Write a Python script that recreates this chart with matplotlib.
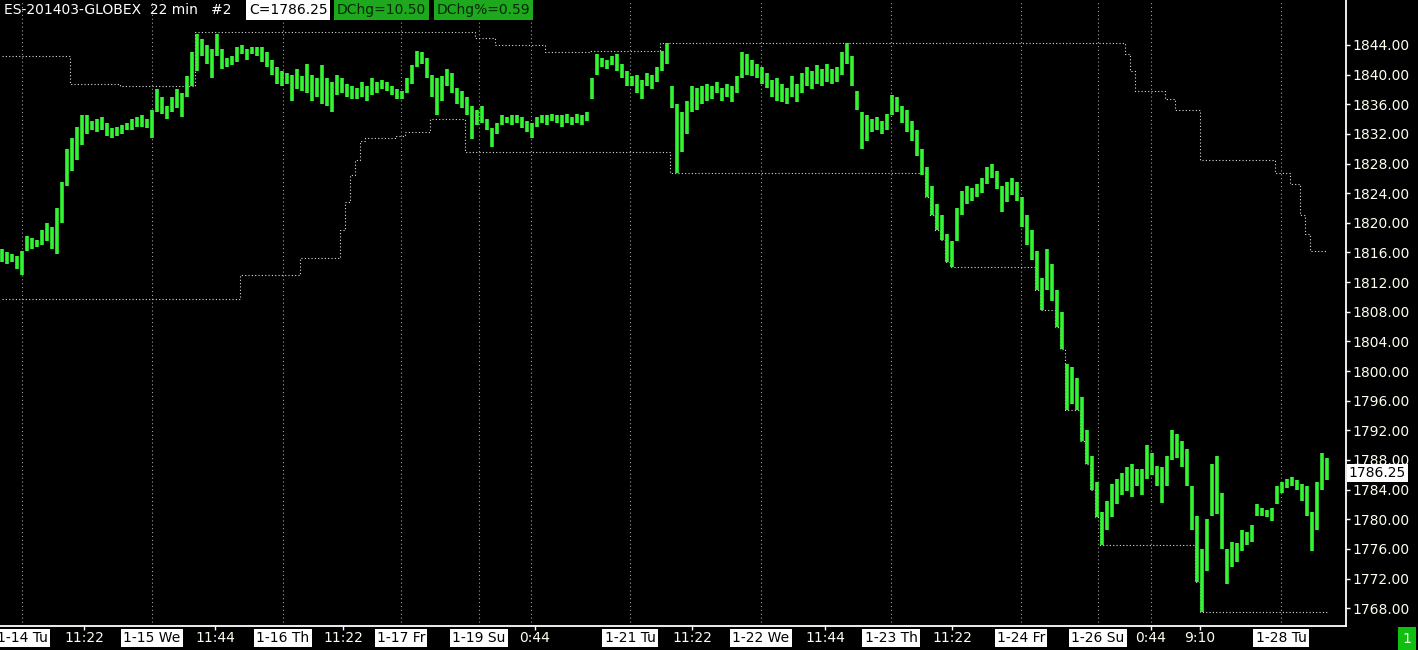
import matplotlib
matplotlib.use("Agg")
import numpy as np
import matplotlib.pyplot as plt
from matplotlib.transforms import blended_transform_factory

# ES-201403 22 min bars (every other bar): lows / highs
bar_low = [
    1814.75, 1814.5, 1814.75, 1813.75, 1813.0, 1816.25, 1816.5, 1816.75, 1817.0, 1817.5,
    1816.5, 1815.75, 1820.0, 1825.0, 1827.0, 1828.5, 1830.5, 1832.0, 1832.5, 1832.25,
    1832.5, 1831.75, 1831.5, 1831.75, 1832.0, 1832.5, 1832.5, 1833.0, 1833.0, 1832.75,
    1831.5, 1835.0, 1834.75, 1834.0, 1835.0, 1835.5, 1834.25, 1837.0, 1838.5, 1840.5,
    1842.5, 1841.5, 1839.5, 1842.5, 1840.75, 1841.0, 1841.25, 1841.75, 1842.75, 1842.0,
    1842.75, 1842.5, 1841.75, 1841.0, 1840.0, 1838.75, 1838.5, 1838.75, 1836.5, 1838.0,
    1837.75, 1837.5, 1836.5, 1837.0, 1836.0, 1835.75, 1835.0, 1837.25, 1837.5, 1837.0,
    1836.75, 1836.75, 1837.0, 1836.5, 1837.25, 1837.5, 1838.0, 1837.75, 1837.25, 1836.75,
    1836.75, 1837.5, 1838.75, 1841.0, 1841.5, 1839.5, 1837.0, 1834.5, 1836.5, 1838.5,
    1837.5, 1836.0, 1835.5, 1834.5, 1831.25, 1833.25, 1833.5, 1832.5, 1830.25, 1832.0,
    1833.25, 1833.5, 1833.25, 1833.5, 1832.75, 1832.25, 1831.5, 1833.0, 1833.5, 1833.25,
    1833.75, 1833.5, 1833.0, 1833.5, 1833.25, 1833.5, 1833.25, 1833.75, 1836.75, 1840.0,
    1841.0, 1840.75, 1841.25, 1840.5, 1839.5, 1838.5, 1838.5, 1837.5, 1836.75, 1838.5,
    1838.0, 1839.0, 1840.5, 1841.5, 1835.5, 1826.75, 1829.5, 1832.0, 1835.0, 1835.25,
    1836.0, 1836.5, 1836.75, 1837.5, 1836.5, 1837.0, 1836.25, 1837.5, 1839.5, 1840.0,
    1839.75, 1839.5, 1838.75, 1838.25, 1837.0, 1836.5, 1836.25, 1836.0, 1837.0, 1836.25,
    1837.5, 1838.5, 1838.0, 1838.75, 1838.5, 1839.0, 1838.75, 1839.0, 1840.0, 1841.5,
    1838.5, 1835.25, 1830.0, 1831.0, 1832.25, 1832.5, 1832.0, 1832.5, 1834.5, 1835.0,
    1833.5, 1832.25, 1831.0, 1829.0, 1826.5, 1823.5, 1821.0, 1819.0, 1817.75, 1814.75,
    1814.0, 1817.5, 1821.0, 1822.5, 1823.0, 1823.5, 1824.0, 1825.25, 1826.0, 1824.5,
    1821.5, 1822.75, 1823.75, 1823.0, 1819.5, 1817.0, 1815.0, 1811.0, 1808.25, 1811.0,
    1809.5, 1806.0, 1803.0, 1794.75, 1795.5, 1794.75, 1790.5, 1787.5, 1784.0, 1780.25,
    1776.5, 1778.5, 1780.25, 1782.0, 1783.25, 1783.75, 1783.0, 1784.5, 1783.25, 1785.5,
    1786.0, 1784.5, 1782.25, 1784.5, 1788.0, 1788.25, 1787.0, 1784.5, 1778.5, 1771.5,
    1767.5, 1773.0, 1780.5, 1780.75, 1776.0, 1771.25, 1773.5, 1774.25, 1775.75, 1776.5,
    1777.0, 1780.5, 1780.5, 1780.25, 1779.75, 1782.0, 1783.5, 1784.25, 1784.5, 1784.0,
    1782.5, 1780.5, 1775.75, 1778.5, 1784.0, 1785.25,
]
bar_high = [
    1816.5, 1816.0, 1815.75, 1815.5, 1816.25, 1818.25, 1818.0, 1817.75, 1819.0, 1820.0,
    1819.5, 1822.0, 1825.5, 1830.0, 1831.5, 1833.0, 1834.5, 1834.5, 1833.75, 1834.0,
    1834.25, 1833.5, 1832.75, 1833.0, 1833.25, 1833.5, 1834.0, 1834.25, 1834.5, 1834.0,
    1835.25, 1838.0, 1837.0, 1835.75, 1837.0, 1838.0, 1837.5, 1839.75, 1843.0, 1845.5,
    1844.75, 1844.0, 1843.5, 1845.5, 1843.5, 1842.25, 1842.5, 1843.75, 1844.0, 1843.5,
    1843.75, 1843.75, 1843.75, 1843.0, 1842.0, 1841.0, 1840.5, 1840.25, 1840.0, 1840.75,
    1839.75, 1841.5, 1840.0, 1839.5, 1841.25, 1839.5, 1839.0, 1840.0, 1839.5, 1838.75,
    1838.5, 1838.25, 1839.0, 1838.5, 1839.5, 1839.0, 1839.25, 1839.0, 1838.5, 1838.0,
    1837.75, 1839.5, 1841.25, 1843.25, 1843.0, 1842.25, 1840.0, 1839.5, 1839.75, 1840.75,
    1840.25, 1838.25, 1837.75, 1837.0, 1835.75, 1835.25, 1835.75, 1834.0, 1832.75, 1833.5,
    1834.5, 1834.25, 1834.5, 1834.5, 1834.25, 1833.75, 1833.5, 1834.25, 1834.5, 1834.5,
    1834.75, 1834.5, 1834.5, 1834.75, 1834.25, 1834.75, 1834.5, 1835.0, 1839.5, 1842.75,
    1842.25, 1842.0, 1842.5, 1842.75, 1841.5, 1840.5, 1839.75, 1840.0, 1839.25, 1840.25,
    1840.0, 1841.0, 1843.25, 1844.25, 1838.5, 1836.0, 1835.0, 1836.5, 1838.5, 1838.25,
    1838.5, 1838.75, 1838.5, 1839.0, 1838.25, 1838.75, 1838.5, 1839.75, 1843.0, 1842.75,
    1842.0, 1841.5, 1841.0, 1840.25, 1839.25, 1839.5, 1838.75, 1838.25, 1839.75, 1838.75,
    1840.25, 1841.0, 1840.5, 1841.25, 1840.75, 1841.5, 1840.75, 1841.0, 1843.0, 1844.25,
    1842.5, 1837.75, 1835.0, 1834.5, 1834.0, 1834.25, 1833.75, 1834.75, 1837.25, 1837.0,
    1835.75, 1835.25, 1833.75, 1832.5, 1830.0, 1827.5, 1825.0, 1822.5, 1821.0, 1818.5,
    1817.5, 1822.0, 1824.25, 1825.0, 1824.75, 1825.25, 1826.0, 1827.5, 1828.0, 1827.0,
    1825.0, 1825.5, 1826.0, 1825.5, 1823.5, 1821.0, 1819.0, 1816.25, 1812.5, 1816.5,
    1814.5, 1811.0, 1808.0, 1801.0, 1800.5, 1799.0, 1796.5, 1792.0, 1788.5, 1785.0,
    1781.0, 1782.5, 1784.75, 1785.5, 1786.25, 1787.0, 1787.5, 1786.75, 1786.75, 1790.0,
    1789.0, 1787.25, 1787.0, 1788.5, 1792.0, 1791.5, 1790.5, 1789.5, 1784.5, 1780.5,
    1776.0, 1780.0, 1787.5, 1788.5, 1783.5, 1776.0, 1777.0, 1776.75, 1778.5, 1778.25,
    1779.25, 1782.0, 1781.5, 1781.25, 1781.5, 1784.5, 1785.0, 1785.5, 1785.75, 1785.25,
    1784.75, 1784.5, 1781.0, 1785.0, 1789.0, 1788.25,
]
last_close = 1786.25

# channel lines: (bar where level starts, level)
upper_steps = [(0, 1842.5), (14, 1838.75), (24, 1838.5), (39, 1845.75), (95, 1845.0),
               (99, 1844.0), (109, 1843.0), (118, 1843.25), (132, 1844.25), (225, 1842.75),
               (226, 1840.5), (227, 1837.75), (233, 1836.75), (235, 1835.25), (240, 1828.5),
               (255, 1826.75), (258, 1825.25), (260, 1821.0), (261, 1818.5), (262, 1816.25)]
lower_steps = [(0, 1809.75), (48, 1813.0), (60, 1815.25), (68, 1819.0), (69, 1822.75),
               (70, 1826.5), (71, 1828.5), (72, 1831.0), (73, 1831.5), (79, 1831.75),
               (81, 1832.25), (86, 1834.0), (93, 1829.5), (134, 1826.75), (185, 1823.5),
               (186, 1821.0), (187, 1819.0), (188, 1817.75), (189, 1814.75), (190, 1814.0),
               (207, 1811.0), (208, 1808.25), (211, 1806.0), (212, 1803.0), (213, 1794.75),
               (216, 1790.5), (217, 1787.5), (218, 1784.0), (219, 1780.25), (220, 1776.5),
               (239, 1771.5), (240, 1767.5)]

# axis labels (bar index where they sit)
date_pos = [4.0, 30.0, 56.2, 79.8, 95.4, 125.6, 151.8, 177.8, 203.8, 219.2, 255.8]
date_labels = ["1-14 Tu", "1-15 We", "1-16 Th", "1-17 Fr", "1-19 Su", "1-21 Tu",
               "1-22 We", "1-23 Th", "1-24 Fr", "1-26 Su", "1-28 Tu"]
time_pos = [16.4, 42.6, 68.2, 106.6, 138.0, 164.6, 190.0, 229.8, 239.6]
time_labels = ["11:22", "11:44", "11:22", "0:44", "11:22", "11:44", "11:22", "0:44", "9:10"]
session_pos = [105.8, 229.8]

W, H = 1418, 650
fig = plt.figure(figsize=(W / 100, H / 100), dpi=100, facecolor="black")
ax = fig.add_axes([0, 24 / H, 1346 / W, 626 / H], facecolor="black")

idx = np.arange(len(bar_low))

def expand(steps):
    out = np.zeros(len(idx))
    for start, level in steps:
        out[start:] = level
    return out

for p in date_pos + session_pos:
    ax.axvline(p, color="#a0a0a0", lw=0.8, ls=(0, (1, 2.5)), zorder=1)

ax.step(idx, expand(upper_steps), where="mid", color="#dcdcdc", lw=0.8, ls=(0, (1, 2)), zorder=2)
ax.step(idx, expand(lower_steps), where="mid", color="#dcdcdc", lw=0.8, ls=(0, (1, 2)), zorder=2)

ax.vlines(idx, bar_low, bar_high, color="#33f533", lw=2.6, zorder=3)

ax.set_xlim(-0.4, 268.8)
ax.set_ylim(1765.6, 1850.07)

for side in ["left", "top"]:
    ax.spines[side].set_visible(False)
for side in ["right", "bottom"]:
    ax.spines[side].set_color("white")
    ax.spines[side].set_linewidth(1.3)

ax.yaxis.tick_right()
ax.set_yticks(np.arange(1768, 1845, 4))
ax.set_yticklabels([f"{v:.2f}" for v in np.arange(1768, 1845, 4)])
ax.tick_params(axis="y", colors="white", labelcolor="#fffff0", length=3, width=1,
               labelsize=10, pad=1.5)
ax.set_xticks(time_pos)
ax.set_xticklabels([])
ax.tick_params(axis="x", colors="white", length=3, width=1)

lab = blended_transform_factory(ax.transData, fig.transFigure)
for p, t in zip(date_pos, date_labels):
    ax.text(p, 12 / H, t, transform=lab, ha="center", va="center", fontsize=10,
            color="black", clip_on=False,
            bbox=dict(boxstyle="square,pad=0.15", fc="white", ec="none"))
for p, t in zip(time_pos, time_labels):
    ax.text(p, 12 / H, t, transform=lab, ha="center", va="center", fontsize=10,
            color="#fffff0", clip_on=False)

# last price marker on the price axis
ax.text(1.002, last_close, f"{last_close:.2f}",
        transform=blended_transform_factory(ax.transAxes, ax.transData),
        ha="left", va="center", fontsize=10, color="black", clip_on=False,
        bbox=dict(boxstyle="square,pad=0.15", fc="white", ec="none"))

# header
fig.text(4 / W, 1 - 10 / H, "ES-201403-GLOBEX  22 min   #2", ha="left", va="center",
         fontsize=10, color="white")
fig.text(249 / W, 1 - 10 / H, f"C={last_close:.2f}", ha="left", va="center", fontsize=10,
         color="black", bbox=dict(boxstyle="square,pad=0.2", fc="white", ec="none"))
fig.text(337 / W, 1 - 10 / H, "DChg=10.50", ha="left", va="center", fontsize=10,
         color="#062806", bbox=dict(boxstyle="square,pad=0.2", fc="#1da81d", ec="none"))
fig.text(437 / W, 1 - 10 / H, "DChg%=0.59", ha="left", va="center", fontsize=10,
         color="#062806", bbox=dict(boxstyle="square,pad=0.2", fc="#1da81d", ec="none"))

fig.text(1407 / W, 11 / H, "1", ha="center", va="center", fontsize=10, color="white",
         bbox=dict(boxstyle="square,pad=0.35", fc="#10c010", ec="none"))

fig.savefig("out.png", dpi=100, facecolor="black")
